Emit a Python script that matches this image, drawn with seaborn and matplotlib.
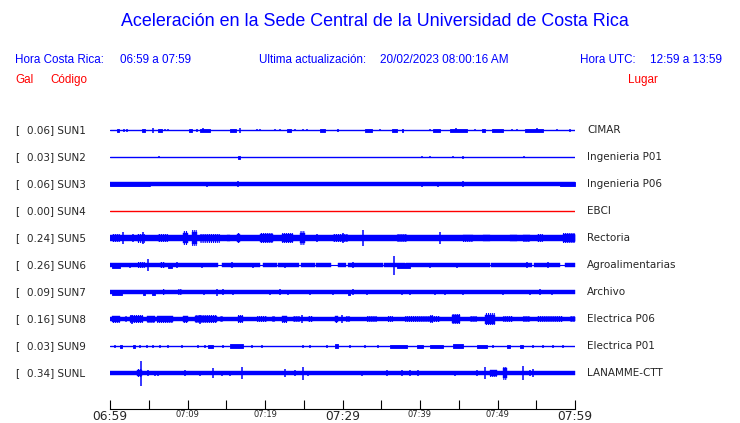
import seaborn as sns
import matplotlib.pyplot as plt

# Estaciones, de arriba hacia abajo
codes = ["SUN1", "SUN2", "SUN3", "SUN4", "SUN5", "SUN6", "SUN7", "SUN8", "SUN9", "SUNL"]
places = ["CIMAR", "Ingenieria P01", "Ingenieria P06", "EBCI", "Rectoria",
          "Agroalimentarias", "Archivo", "Electrica P06", "Electrica P01", "LANAMME-CTT"]
peaks = [0.06, 0.03, 0.06, 0.00, 0.24, 0.26, 0.09, 0.16, 0.03, 0.34]

# amplitud del ruido de fondo de cada traza (en px de la grafica original)
base_amp = [0.5, 0.5, 1.9, 0.6, 2.7, 2.0, 2.1, 2.4, 0.6, 2.0]

# eje de tiempo: minutos desde las 06:59
tick_minutes = [0, 10, 20, 30, 40, 50, 60]
tick_labels = ["06:59", "07:09", "07:19", "07:29", "07:39", "07:49", "07:59"]

# rafagas: (minuto inicio, minuto fin, amplitud pico)
sun1_bursts = [(0.9, 1.1, 1.5), (1.8, 1.8, 1.5), (2.2, 2.2, 1.5), (4.1, 4.5, 1.5), (5.5, 5.5, 2.5),
               (6.2, 6.7, 1.5), (7.1, 7.1, 1.2), (7.5, 7.5, 1.2), (10.2, 10.6, 1.5), (11.2, 11.2, 1.5),
               (11.6, 12.9, 1.5), (12.0, 12.0, 2.0), (15.5, 16.3, 1.5), (16.8, 16.8, 2.5), (19.0, 19.0, 1.2),
               (19.4, 19.4, 1.2), (21.3, 21.3, 1.2), (21.9, 21.9, 1.2), (22.8, 23.4, 1.5), (23.9, 23.9, 1.2),
               (24.9, 24.9, 1.2), (25.4, 25.4, 1.2), (27.1, 27.7, 1.5), (29.3, 29.4, 1.2), (32.9, 33.8, 1.5),
               (34.8, 34.8, 1.2), (36.4, 37.0, 1.5), (37.7, 37.8, 1.5), (41.3, 41.3, 1.2), (41.7, 42.6, 1.5),
               (43.9, 46.1, 1.5), (44.6, 44.6, 2.0), (47.1, 47.1, 1.2), (48.0, 48.4, 1.5), (49.3, 50.7, 1.5),
               (51.9, 51.9, 1.2), (52.5, 52.5, 1.2), (53.5, 55.9, 1.5), (55.1, 55.1, 2.0), (57.7, 57.7, 1.2),
               (59.4, 59.4, 1.5)]
sun2_bursts = [(6.3, 6.3, 1.0), (16.5, 16.8, 1.5), (40.3, 40.3, 1.0), (41.3, 41.3, 1.0),
               (44.3, 44.3, 1.0), (45.5, 45.5, 1.5), (53.4, 53.4, 0.8)]
sun3_bursts = [(0.0, 5.0, 2.2), (5.2, 5.2, 2.5), (12.5, 12.5, 2.5), (16.5, 16.5, 2.8), (38.3, 38.3, 2.3),
               (40.3, 40.3, 2.5), (42.3, 42.3, 2.5), (45.5, 45.5, 3.0), (52.5, 52.5, 2.3), (58.0, 60.0, 2.2)]
sun4_bursts = []
sun5_bursts = [(0.3, 1.3, 3.7), (1.7, 1.7, 6.0), (3.0, 3.0, 4.0), (3.5, 4.5, 4.5), (4.3, 4.3, 6.0),
               (5.5, 5.5, 3.0), (6.2, 7.5, 4.0), (9.4, 10.0, 7.0), (10.6, 11.2, 8.0), (11.6, 14.2, 4.5),
               (15.1, 15.5, 3.0), (16.4, 16.8, 5.0), (17.4, 17.4, 3.0), (19.4, 21.0, 5.0), (22.2, 23.6, 5.0),
               (24.5, 25.2, 7.0), (26.7, 26.7, 4.0), (28.8, 30.7, 4.0), (30.1, 30.1, 5.0), (32.6, 32.6, 8.0),
               (37.0, 38.3, 4.0), (42.6, 42.6, 6.0), (45.5, 46.8, 3.5), (48.1, 49.0, 3.0), (51.6, 52.5, 3.0),
               (53.3, 54.2, 3.5), (55.1, 55.9, 4.0), (58.5, 60.0, 5.0)]
sun6_bursts = [(0.3, 1.3, 2.5), (2.6, 2.6, 2.5), (3.6, 4.5, 3.0), (4.9, 4.9, 6.0), (6.5, 7.1, 3.0),
               (7.5, 8.0, 2.5), (8.6, 8.6, 3.0), (11.9, 11.9, 2.5), (15.7, 15.7, 3.0), (18.5, 18.5, 2.5),
               (22.6, 22.6, 2.5), (31.3, 31.3, 3.0), (33.8, 33.8, 2.0), (36.6, 36.6, 9.5), (37.0, 38.7, 2.5),
               (41.3, 41.3, 2.5), (44.8, 44.8, 2.5), (46.5, 46.5, 2.0), (53.8, 53.8, 3.0), (56.5, 56.5, 3.0)]
sun7_bursts = [(0.3, 1.6, 2.5), (4.2, 4.5, 2.5), (5.4, 5.8, 2.5), (6.8, 7.1, 3.0), (8.8, 9.3, 3.0),
               (12.1, 12.1, 2.5), (13.8, 13.8, 3.5), (14.6, 14.6, 3.0), (15.9, 15.9, 2.5), (20.6, 20.6, 2.5),
               (21.9, 21.9, 3.0), (23.0, 23.0, 2.5), (25.8, 25.8, 2.5), (28.8, 28.8, 2.5), (30.7, 31.0, 2.5),
               (31.3, 31.3, 3.0), (33.2, 33.2, 2.5), (37.7, 37.7, 2.5), (38.7, 38.7, 2.5), (41.9, 41.9, 2.5),
               (43.2, 43.2, 2.5), (45.5, 45.5, 2.5), (50.7, 50.7, 2.5), (54.2, 54.2, 2.5), (55.5, 55.5, 3.0),
               (57.0, 57.0, 2.5)]
sun8_bursts = [(0.3, 1.3, 3.5), (1.9, 2.2, 3.0), (2.6, 4.2, 4.0), (2.8, 2.8, 4.5), (4.8, 5.8, 3.5),
               (6.1, 8.1, 3.5), (9.4, 10.0, 3.5), (11.0, 13.8, 4.0), (11.6, 11.6, 4.5), (14.2, 14.6, 3.0),
               (16.5, 17.2, 4.0), (19.0, 20.3, 3.0), (20.9, 21.3, 3.0), (22.2, 22.8, 3.5), (23.6, 24.5, 3.0),
               (24.8, 24.8, 4.0), (25.5, 26.2, 3.0), (29.0, 29.4, 3.5), (29.9, 29.9, 4.0), (30.4, 31.0, 3.0),
               (33.2, 34.4, 3.0), (35.9, 36.5, 3.0), (38.1, 42.6, 3.0), (41.3, 41.7, 4.0), (44.1, 45.2, 5.3),
               (46.5, 47.4, 3.0), (48.4, 49.7, 6.0), (50.7, 52.0, 3.0), (53.3, 54.2, 3.0), (55.1, 58.5, 3.0),
               (59.4, 60.0, 3.0)]
sun9_bursts = [(0.6, 0.6, 1.5), (1.3, 1.5, 1.5), (3.0, 3.2, 1.5), (3.9, 3.9, 1.5), (4.8, 4.8, 1.5),
               (5.5, 5.5, 1.5), (6.5, 6.5, 1.5), (7.5, 7.5, 1.5), (9.3, 9.3, 1.5), (11.4, 11.4, 1.5),
               (12.3, 12.3, 1.5), (12.6, 13.3, 1.5), (14.6, 14.6, 1.5), (15.5, 17.2, 2.0), (18.3, 18.3, 1.5),
               (19.6, 19.6, 1.5), (24.9, 24.9, 1.5), (25.8, 25.8, 1.5), (28.0, 28.0, 1.5), (29.0, 29.4, 2.0),
               (31.0, 31.0, 1.5), (32.9, 32.9, 1.5), (34.6, 34.6, 1.5), (36.1, 38.3, 1.5), (39.6, 40.4, 1.5),
               (41.3, 43.0, 1.5), (44.3, 45.5, 2.0), (47.4, 48.6, 1.5), (49.4, 49.4, 1.5), (51.2, 51.6, 1.5),
               (52.9, 53.3, 1.5), (54.6, 54.6, 1.5), (55.9, 55.9, 1.5), (57.2, 57.2, 1.5), (58.5, 58.5, 1.5)]
sunl_bursts = [(1.7, 1.7, 2.0), (3.5, 4.1, 4.0), (4.0, 4.0, 12.5), (4.9, 4.9, 3.0), (5.8, 5.8, 2.5),
               (6.2, 6.2, 2.5), (7.4, 7.4, 2.0), (9.7, 9.7, 3.0), (10.9, 10.9, 2.0), (11.6, 11.6, 2.5),
               (13.3, 13.3, 5.0), (14.5, 14.5, 2.5), (15.5, 15.5, 2.5), (17.0, 17.0, 6.0), (20.0, 20.0, 2.0),
               (22.6, 22.6, 4.0), (23.9, 23.9, 3.0), (24.9, 24.9, 6.5), (25.5, 25.5, 2.5), (29.0, 29.0, 2.0),
               (32.5, 32.5, 2.5), (35.7, 35.7, 3.0), (37.7, 37.7, 3.0), (38.7, 38.7, 3.0), (39.7, 39.7, 3.0),
               (43.5, 43.5, 2.0), (44.5, 44.5, 2.5), (47.4, 47.4, 3.0), (48.4, 48.4, 6.0), (49.0, 49.9, 3.5),
               (50.7, 51.2, 6.5), (53.3, 53.3, 7.0), (54.2, 54.2, 3.0), (54.6, 54.6, 4.0), (58.5, 58.5, 2.0),
               (59.6, 59.6, 2.0)]
bursts = [sun1_bursts, sun2_bursts, sun3_bursts, sun4_bursts, sun5_bursts,
          sun6_bursts, sun7_bursts, sun8_bursts, sun9_bursts, sunl_bursts]

# tramos donde la traza de SUN6 se queda casi plana
sun6_gaps = [(13.9, 14.5), (19.4, 19.7), (21.5, 21.7), (24.4, 24.6), (26.4, 26.6), (28.5, 29.4),
             (30.5, 30.7), (35.2, 35.4), (38.0, 38.2), (49.0, 49.2), (54.5, 54.7), (58.0, 58.7)]
gaps = {5: sun6_gaps}

BLUE = "#0000ff"
RED = "#ff0000"
amp_scale = 1 / 27.0  # px de amplitud -> separacion entre trazas

sns.set_style("white")
plt.rcParams["font.family"] = ["DejaVu Sans"]
plt.rcParams["hatch.linewidth"] = 0.8

fig = plt.figure(figsize=(7.4, 4.23), dpi=100)
ax = fig.add_axes([110 / 740, 14 / 423, 465 / 740, 294 / 423])

for i, code in enumerate(codes):
    color = RED if peaks[i] == 0 else BLUE
    b = base_amp[i]
    # linea base de la traza
    sns.lineplot(x=[0, 60], y=[i, i], ax=ax, color=color, lw=1.0 if b < 1 else 0.8)
    if b >= 1:
        # banda de ruido continuo, cortada en los tramos planos
        edges = [0.0]
        for g0, g1 in gaps.get(i, []):
            edges += [g0, g1]
        edges.append(60.0)
        for s0, s1 in zip(edges[0::2], edges[1::2]):
            ax.fill_between([s0, s1], i - b * amp_scale, i + b * amp_scale,
                            color=color, lw=0.3)
    for t0, t1, a in bursts[i]:
        if t1 == t0:
            ax.vlines(t0, i - a * amp_scale, i + a * amp_scale, color=color, lw=1.1)
        elif a <= 2.5:
            ax.fill_between([t0, t1], i - a * amp_scale, i + a * amp_scale,
                            facecolor=color, edgecolor=color, lw=0.6)
        else:
            core = max(b, 0.75 * a)
            ax.fill_between([t0, t1], i - core * amp_scale, i + core * amp_scale,
                            facecolor=color, edgecolor=color, lw=0.3)
            ax.fill_between([t0, t1], i - a * amp_scale, i + a * amp_scale,
                            facecolor="none", edgecolor=color, hatch="||||||||", lw=0)

    y_txt = 1 - (130 + 27 * i) / 423
    fig.text(15 / 740, y_txt, "[", fontsize=7.5, va="center")
    fig.text(27 / 740, y_txt, f"{peaks[i]:.2f}] {code}", fontsize=7.5, va="center")
    fig.text(587 / 740, y_txt, places[i], fontsize=7.5, va="center")

ax.set_xlim(0, 60)
ax.set_ylim(10.333, -0.556)
ax.set_yticks([])
ax.set_xticks(tick_minutes)
ax.set_xticks([5, 15, 25, 35, 45, 55], minor=True)
ax.set_xticklabels(tick_labels)
ax.tick_params(axis="x", which="both", direction="in", length=6.5, width=0.8,
               color="black", pad=0.5, bottom=True)
for k, lab in enumerate(ax.get_xticklabels()):
    lab.set_fontsize(8.8 if k % 3 == 0 else 6)
for side in ["top", "left", "right"]:
    ax.spines[side].set_visible(False)
ax.spines["bottom"].set_color("black")
ax.spines["bottom"].set_linewidth(0.8)
ax.patch.set_alpha(0)

# encabezado
head = dict(family=["Liberation Sans", "DejaVu Sans"], color=BLUE)
fig.text(375 / 740, 1 - 22 / 423, "Aceleración en la Sede Central de la Universidad de Costa Rica",
         fontsize=12.9, ha="center", va="center", **head)
y_row = 1 - 60 / 423
fig.text(15 / 740, y_row, "Hora Costa Rica:", fontsize=8.4, va="center", **head)
fig.text(120 / 740, y_row, "06:59 a 07:59", fontsize=8.4, va="center", **head)
fig.text(259 / 740, y_row, "Ultima actualización:", fontsize=8.4, va="center", **head)
fig.text(380 / 740, y_row, "20/02/2023 08:00:16 AM", fontsize=8.5, va="center", **head)
fig.text(580 / 740, y_row, "Hora UTC:", fontsize=8.4, va="center", **head)
fig.text(650 / 740, y_row, "12:59 a 13:59", fontsize=8.5, va="center", **head)

red = dict(family=["Liberation Sans", "DejaVu Sans"], color=RED, fontsize=8.4, va="center")
y_row2 = 1 - 80 / 423
fig.text(15 / 740, y_row2, "Gal", **red)
fig.text(50 / 740, y_row2, "Código", **red)
fig.text(628 / 740, y_row2, "Lugar", **red)

fig.savefig("out.png", dpi=100, facecolor="white")
